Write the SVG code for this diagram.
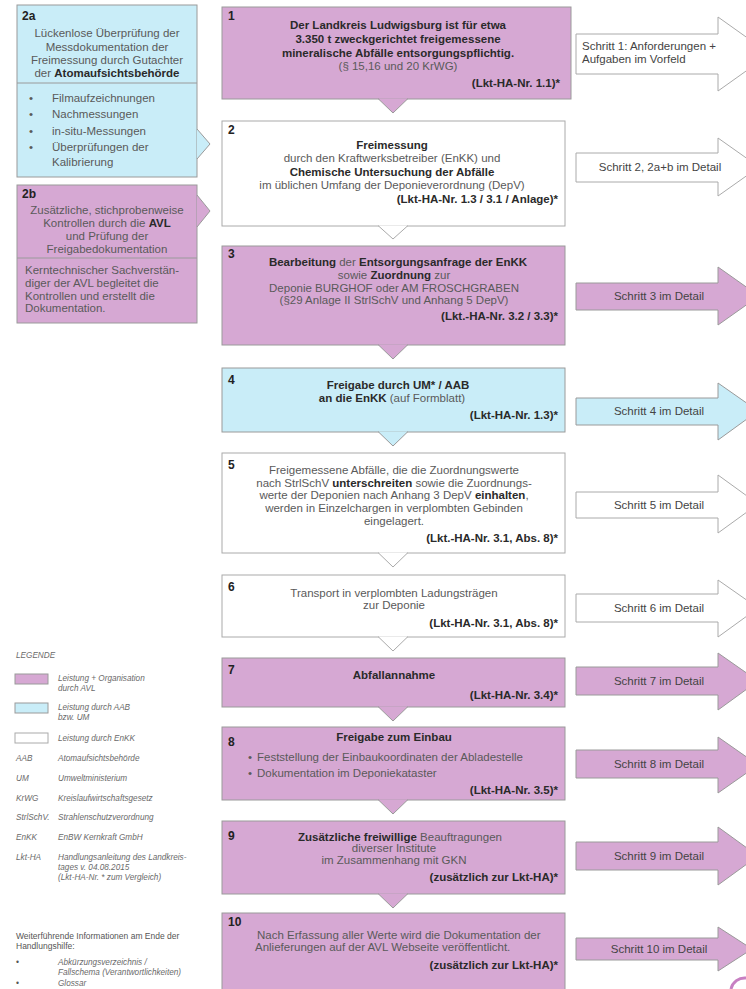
<svg xmlns="http://www.w3.org/2000/svg" width="746" height="989" viewBox="0 0 746 989">
<style>
text{font-family:"Liberation Sans",Arial,sans-serif}
.t{font-size:11.5px;fill:#5a5a5a}
.b{font-weight:bold;fill:#2a2a2a}
.c{text-anchor:middle}
.e{text-anchor:end}
.num{font-size:12px;font-weight:bold;fill:#222}
.lg{font-size:8.2px;font-style:italic;fill:#6a6a6a}
.lt{font-size:8.5px;fill:#555}
.ar{font-size:11.5px;fill:#444}
.pur{fill:#D6A8D3;stroke:#9a9a9a;stroke-width:1}
.blu{fill:#C9EDF8;stroke:#9a9a9a;stroke-width:1}
.wht{fill:#fff;stroke:#aaa;stroke-width:1}
.div{stroke:#9a9a9a;stroke-width:1}
</style>
<rect width="746" height="989" fill="#fff"/>

<!-- left column -->
<g id="n2a">
<rect class="blu" x="17" y="5" width="180" height="172"/>
<line class="div" x1="17" y1="83" x2="197" y2="83"/>
<text class="num" x="22" y="20">2a</text>
<text class="t c" x="107" y="37">Lückenlose Überprüfung der</text>
<text class="t c" x="107" y="51">Messdokumentation der</text>
<text class="t c" x="107" y="64">Freimessung durch Gutachter</text>
<text class="t c" x="107" y="77">der <tspan class="b">Atomaufsichtsbehörde</tspan></text>
<text class="t" x="29" y="102">•</text><text class="t" x="52" y="102">Filmaufzeichnungen</text>
<text class="t" x="29" y="118">•</text><text class="t" x="52" y="118">Nachmessungen</text>
<text class="t" x="29" y="135">•</text><text class="t" x="52" y="135">in-situ-Messungen</text>
<text class="t" x="29" y="151">•</text><text class="t" x="52" y="151">Überprüfungen der</text>
<text class="t" x="52" y="166">Kalibrierung</text>
</g>
<g id="n2b">
<rect class="pur" x="17" y="185" width="180" height="138"/>
<line class="div" x1="17" y1="258" x2="197" y2="258"/>
<text class="num" x="22" y="198">2b</text>
<text class="t c" x="107" y="214">Zusätzliche, stichprobenweise</text>
<text class="t c" x="107" y="227">Kontrollen durch die <tspan class="b">AVL</tspan></text>
<text class="t c" x="107" y="240">und Prüfung der</text>
<text class="t c" x="107" y="253">Freigabedokumentation</text>
<text class="t" x="25" y="274">Kerntechnischer Sachverstän-</text>
<text class="t" x="25" y="287">diger der AVL begleitet die</text>
<text class="t" x="25" y="300">Kontrollen und erstellt die</text>
<text class="t" x="25" y="312">Dokumentation.</text>
</g>

<!-- main column -->
<g id="n1">
<rect class="pur" x="222" y="7" width="349" height="92"/>
<text class="num" x="228" y="20">1</text>
<text class="t b c" x="398" y="29">Der Landkreis Ludwigsburg ist für etwa</text>
<text class="t b c" x="398" y="43">3.350 t zweckgerichtet freigemessene</text>
<text class="t b c" x="398" y="57">mineralische Abfälle entsorgungspflichtig.</text>
<text class="t c" x="398" y="70">(§ 15,16 und 20 KrWG)</text>
<text class="t b e" x="560" y="87">(Lkt-HA-Nr. 1.1)*</text>
</g>
<g id="n2">
<rect class="wht" x="222" y="121" width="343" height="105"/>
<text class="num" x="228" y="134">2</text>
<text class="t b c" x="392" y="149">Freimessung</text>
<text class="t c" x="392" y="162">durch den Kraftwerksbetreiber (EnKK) und</text>
<text class="t b c" x="392" y="176">Chemische Untersuchung der Abfälle</text>
<text class="t c" x="392" y="189">im üblichen Umfang der Deponieverordnung (DepV)</text>
<text class="t b e" x="558" y="203">(Lkt-HA-Nr. 1.3 / 3.1 / Anlage)*</text>
</g>
<g id="n3">
<rect class="pur" x="222" y="246" width="343" height="99"/>
<text class="num" x="228" y="258">3</text>
<text class="t c" x="398" y="266"><tspan class="b">Bearbeitung</tspan> der <tspan class="b">Entsorgungsanfrage der EnKK</tspan></text>
<text class="t c" x="394" y="279">sowie <tspan class="b">Zuordnung</tspan> zur</text>
<text class="t c" x="394" y="292">Deponie BURGHOF oder AM FROSCHGRABEN</text>
<text class="t c" x="394" y="304">(§29 Anlage II StrlSchV und Anhang 5 DepV)</text>
<text class="t b e" x="558" y="320">(Lkt.-HA-Nr. 3.2 / 3.3)*</text>
</g>
<g id="n4">
<rect class="blu" x="222" y="368" width="343" height="64"/>
<text class="num" x="228" y="384">4</text>
<text class="t b c" x="398" y="389">Freigabe durch UM* / AAB</text>
<text class="t c" x="392" y="402"><tspan class="b">an die EnKK</tspan> (auf Formblatt)</text>
<text class="t b e" x="558" y="419">(Lkt-HA-Nr. 1.3)*</text>
</g>
<g id="n5">
<rect class="wht" x="222" y="453" width="343" height="100"/>
<text class="num" x="228" y="469">5</text>
<text class="t c" x="394" y="474">Freigemessene Abfälle, die die Zuordnungswerte</text>
<text class="t c" x="394" y="487">nach StrlSchV <tspan class="b">unterschreiten</tspan> sowie die Zuordnungs-</text>
<text class="t c" x="394" y="499">werte der Deponien nach Anhang 3 DepV <tspan class="b">einhalten</tspan>,</text>
<text class="t c" x="394" y="512">werden in Einzelchargen in verplombten Gebinden</text>
<text class="t c" x="394" y="525">eingelagert.</text>
<text class="t b e" x="558" y="542">(Lkt.-HA-Nr. 3.1, Abs. 8)*</text>
</g>
<g id="n6">
<rect class="wht" x="222" y="575" width="343" height="62"/>
<text class="num" x="228" y="591">6</text>
<text class="t c" x="394" y="597">Transport in verplombten Ladungsträgen</text>
<text class="t c" x="394" y="609">zur Deponie</text>
<text class="t b e" x="558" y="627">(Lkt-HA-Nr. 3.1, Abs. 8)*</text>
</g>
<g id="n7">
<rect class="pur" x="222" y="658" width="343" height="49"/>
<text class="num" x="228" y="674">7</text>
<text class="t b c" x="394" y="679">Abfallannahme</text>
<text class="t b e" x="558" y="699">(Lkt-HA-Nr. 3.4)*</text>
</g>
<g id="n8">
<rect class="pur" x="222" y="727" width="343" height="73"/>
<text class="num" x="228" y="746">8</text>
<text class="t b c" x="394" y="741">Freigabe zum Einbau</text>
<text class="t" x="248" y="761">•</text><text class="t" x="257" y="761">Feststellung der Einbaukoordinaten der Abladestelle</text>
<text class="t" x="248" y="777">•</text><text class="t" x="257" y="777">Dokumentation im Deponiekataster</text>
<text class="t b e" x="558" y="794">(Lkt-HA-Nr. 3.5)*</text>
</g>
<g id="n9">
<rect class="pur" x="222" y="821" width="343" height="73"/>
<text class="num" x="228" y="840">9</text>
<text class="t c" x="400" y="841"><tspan class="b">Zusätzliche freiwillige</tspan> Beauftragungen</text>
<text class="t c" x="394" y="852">diverser Institute</text>
<text class="t c" x="394" y="864">im Zusammenhang mit GKN</text>
<text class="t b e" x="558" y="881">(zusätzlich zur Lkt-HA)*</text>
</g>
<g id="n10">
<rect class="pur" x="222" y="913" width="343" height="92"/>
<text class="num" x="228" y="926">10</text>
<text class="t" x="257" y="939">Nach Erfassung aller Werte wird die Dokumentation der</text>
<text class="t" x="255" y="951">Anlieferungen auf der AVL Webseite veröffentlicht.</text>
<text class="t b e" x="558" y="969">(zusätzlich zur Lkt-HA)*</text>
</g>

<!-- connectors (pointers) -->
<g id="connectors">
<path class="blu" d="M197,129 L210,144 L197,159"/>
<path class="pur" d="M197,195 L210,211 L197,227"/>
<path class="pur" d="M378,98.5 L393,113 L408,98.5"/>
<path class="wht" d="M378,225.5 L393,239 L408,225.5"/>
<path class="pur" d="M378,344.5 L393,359 L408,344.5"/>
<path class="blu" d="M378,431.5 L393,446 L408,431.5"/>
<path class="wht" d="M378,552.5 L393,567 L408,552.5"/>
<path class="wht" d="M378,636.5 L393,651 L408,636.5"/>
<path class="pur" d="M378,706.5 L393,721 L408,706.5"/>
<path class="pur" d="M378,799.5 L393,814 L408,799.5"/>
<path class="pur" d="M378,893.5 L393,908 L408,893.5"/>
</g>

<!-- right arrows -->
<g id="a1">
<path class="wht" d="M576,34 H718 V17 L770,54 L718,91 V74 H576 Z"/>
<text class="ar" x="582" y="50">Schritt 1: Anforderungen +</text>
<text class="ar" x="582" y="63">Aufgaben im Vorfeld</text>
</g>
<g id="a2">
<path class="wht" d="M576,153 H718 V138 L759,167 L718,196 V182 H576 Z"/>
<text class="ar c" x="660" y="171">Schritt 2, 2a+b im Detail</text>
</g>
<g id="a3">
<path class="pur" d="M576,283 H718 V267 L759,296 L718,325 V310 H576 Z"/>
<text class="ar c" x="659" y="300">Schritt 3 im Detail</text>
</g>
<g id="a4">
<path class="blu" d="M576,398 H718 V383 L758,411 L718,440 V425 H576 Z"/>
<text class="ar c" x="659" y="415">Schritt 4 im Detail</text>
</g>
<g id="a5">
<path class="wht" d="M576,492 H718 V475 L758,504 L718,533 V518 H576 Z"/>
<text class="ar c" x="659" y="509">Schritt 5 im Detail</text>
</g>
<g id="a6">
<path class="wht" d="M576,594 H718 V580 L758,608 L718,637 V622 H576 Z"/>
<text class="ar c" x="659" y="612">Schritt 6 im Detail</text>
</g>
<g id="a7">
<path class="pur" d="M576,667 H718 V653 L758,681 L718,710 V695 H576 Z"/>
<text class="ar c" x="659" y="685">Schritt 7 im Detail</text>
</g>
<g id="a8">
<path class="pur" d="M576,750 H718 V737 L758,765 L718,793 V778 H576 Z"/>
<text class="ar c" x="659" y="768">Schritt 8 im Detail</text>
</g>
<g id="a9">
<path class="pur" d="M576,842 H718 V827 L758,856 L718,885 V870 H576 Z"/>
<text class="ar c" x="659" y="860">Schritt 9 im Detail</text>
</g>
<g id="a10">
<path class="pur" d="M576,938 H718 V927 L752,949 L718,971 V960 H576 Z"/>
<text class="ar c" x="659" y="953">Schritt 10 im Detail</text>
</g>
<path d="M731,989 A14,14 0 0 1 746,978" fill="none" stroke="#C77FC2" stroke-width="3"/>

<!-- legend -->
<g id="legend">
<text class="lg" x="16" y="658">LEGENDE</text>
<rect class="pur" x="15" y="674" width="33" height="10"/>
<text class="lg" x="58" y="681">Leistung + Organisation</text>
<text class="lg" x="58" y="691">durch AVL</text>
<rect class="blu" x="15" y="703" width="33" height="10"/>
<text class="lg" x="58" y="710">Leistung durch AAB</text>
<text class="lg" x="58" y="720">bzw. UM</text>
<rect class="wht" x="15" y="733" width="33" height="10"/>
<text class="lg" x="58" y="741">Leistung durch EnKK</text>
<text class="lg" x="16" y="761">AAB</text><text class="lg" x="58" y="761">Atomaufsichtsbehörde</text>
<text class="lg" x="16" y="781">UM</text><text class="lg" x="58" y="781">Umweltministerium</text>
<text class="lg" x="16" y="801">KrWG</text><text class="lg" x="58" y="801">Kreislaufwirtschaftsgesetz</text>
<text class="lg" x="16" y="820">StrlSchV.</text><text class="lg" x="58" y="820">Strahlenschutzverordnung</text>
<text class="lg" x="16" y="840">EnKK</text><text class="lg" x="58" y="840">EnBW Kernkraft GmbH</text>
<text class="lg" x="16" y="860">Lkt-HA</text><text class="lg" x="58" y="860">Handlungsanleitung des Landkreis-</text>
<text class="lg" x="58" y="870">tages v. 04.08.2015</text>
<text class="lg" x="58" y="880">(Lkt-HA-Nr. * zum Vergleich)</text>
<text class="lt" x="16" y="939">Weiterführende Informationen am Ende der</text>
<text class="lt" x="16" y="949">Handlungshilfe:</text>
<text class="lt" x="16" y="965">•</text>
<text class="lg" x="58" y="965">Abkürzungsverzeichnis /</text>
<text class="lg" x="58" y="975">Fallschema (Verantwortlichkeiten)</text>
<text class="lt" x="16" y="986">•</text>
<text class="lg" x="58" y="986">Glossar</text>
</g>
</svg>
